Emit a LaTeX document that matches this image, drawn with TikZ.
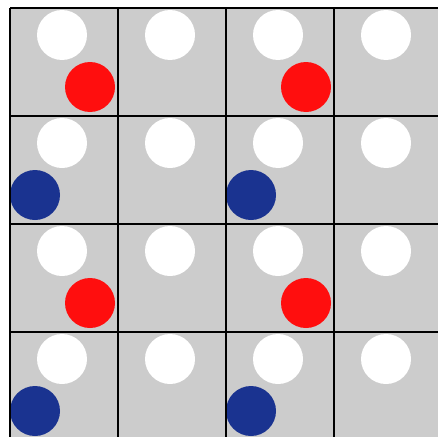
\documentclass[tikz,border=0pt]{standalone}
\definecolor{cellgray}{RGB}{204,204,204}
\definecolor{dotred}{RGB}{255,14,14}
\definecolor{dotblue}{RGB}{26,51,144}
\begin{document}
\begin{tikzpicture}[x=1pt,y=-1pt,
  gridline/.style={line width=2.8pt,black},
  whitedot/.style={fill=white},
  reddot/.style={fill=dotred},
  bluedot/.style={fill=dotblue}]
\useasboundingbox (0,0) rectangle (438,436);
\clip (0,0) rectangle (438,436);
\fill[cellgray] (10,8) rectangle (450,450);
\foreach \c in {0,1,2,3}{
  \foreach \r in {0,1,2,3}{
    \pgfmathsetmacro{\xo}{10+108*\c}
    \pgfmathsetmacro{\yo}{8+108*\r}
    \fill[whitedot] (\xo+52,\yo+27) circle (25);
  }
}
\foreach \c in {0,2}{
  \foreach \r in {0,2}{
    \pgfmathsetmacro{\xo}{10+108*\c}
    \pgfmathsetmacro{\yo}{8+108*\r}
    \fill[reddot] (\xo+80,\yo+79) circle (25);
  }
  \foreach \r in {1,3}{
    \pgfmathsetmacro{\xo}{10+108*\c}
    \pgfmathsetmacro{\yo}{8+108*\r}
    \fill[bluedot] (\xo+25,\yo+79) circle (25);
  }
}
\foreach \i in {0,1,2,3,4}{
  \draw[gridline] (10+108*\i,8) -- (10+108*\i,450);
  \draw[gridline] (10,8+108*\i) -- (450,8+108*\i);
}
\end{tikzpicture}
\end{document}
